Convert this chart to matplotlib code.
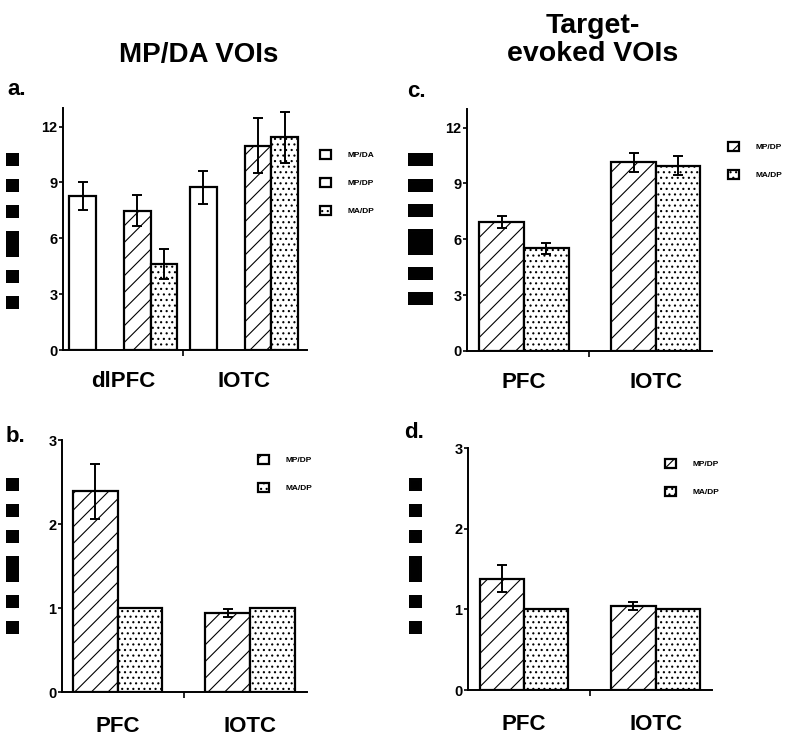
import numpy as np
import matplotlib
matplotlib.use("Agg")
import matplotlib.pyplot as plt

# ----------------------------
# Data
# ----------------------------

series_names = ["MP/DA", "MP/DP", "MA/DP"]

# panel a: MP/DA VOIs, ratio
a_groups = ["dlPFC", "IOTC"]
a_mpda = [8.28, 8.73]
a_mpda_err = [0.75, 0.88]
a_mpdp = [7.49, 10.97]
a_mpdp_err = [0.85, 1.48]
a_madp = [4.62, 11.42]
a_madp_err = [0.80, 1.38]

# panel c: target-evoked VOIs, ratio
c_groups = ["PFC", "IOTC"]
c_mpdp = [6.94, 10.14]
c_mpdp_err = [0.33, 0.50]
c_madp = [5.51, 9.96]
c_madp_err = [0.28, 0.50]

# panel b: MP/DA VOIs, normalised to MA/DP
b_groups = ["PFC", "IOTC"]
b_mpdp = [2.39, 0.94]
b_mpdp_err = [0.33, 0.05]
b_madp = [1.0, 1.0]

# panel d: target-evoked VOIs, normalised to MA/DP
d_groups = ["PFC", "IOTC"]
d_mpdp = [1.38, 1.04]
d_mpdp_err = [0.17, 0.05]
d_madp = [1.0, 1.0]

# ----------------------------
# Style
# ----------------------------

plt.rcParams['font.family'] = ['Liberation Sans', 'DejaVu Sans']
plt.rcParams['hatch.linewidth'] = 0.8
plt.rcParams['hatch.color'] = 'black'

BAR_STYLE = {
    "MP/DA": dict(facecolor="white", edgecolor="black", hatch=None),
    "MP/DP": dict(facecolor="white", edgecolor="black", hatch="//"),
    "MA/DP": dict(facecolor="white", edgecolor="black", hatch="..."),
}

fig = plt.figure(figsize=(8, 7.43), dpi=100)


def px_axes(left, top, right, bottom):
    # axes placed from pixel edges of the 800x743 canvas
    W, H = 800.0, 743.0
    return fig.add_axes([left / W, 1 - bottom / H, (right - left) / W, (bottom - top) / H])


def style_axes(ax, yticks, ylim, xlim, centers, groups, mid, label_pad):
    for s in ["top", "right"]:
        ax.spines[s].set_visible(False)
    ax.spines["left"].set_linewidth(1.4)
    ax.spines["bottom"].set_linewidth(1.4)
    ax.set_ylim(*ylim)
    ax.set_xlim(*xlim)
    ax.set_yticks(yticks)
    ax.set_yticklabels([str(t) for t in yticks], fontsize=10.5, fontweight="bold")
    ax.tick_params(axis="y", direction="out", length=3, width=1.2, pad=1)
    ax.set_xticks(centers)
    ax.set_xticklabels(groups, fontsize=16, fontweight="bold")
    ax.tick_params(axis="x", which="major", length=0, pad=label_pad)
    ax.set_xticks([mid], minor=True)
    ax.tick_params(axis="x", which="minor", direction="out", length=4, width=1.2)


def draw_bars(ax, xs, vals, errs, name):
    bars = ax.bar(xs, vals, width=1.0, linewidth=1.6, label=name, zorder=2,
                  **BAR_STYLE[name])
    if errs is not None:
        ax.errorbar(xs, vals, yerr=errs, fmt="none", ecolor="black",
                    elinewidth=1.4, capsize=3.8, capthick=1.4, zorder=3)
    return bars


def add_legend(ax, handles, x, y):
    fig.legend(handles=handles, labels=[h.get_label() for h in handles],
               loc="upper left", bbox_to_anchor=(x / 800.0, 1 - y / 743.0),
               bbox_transform=fig.transFigure, frameon=False,
               prop=dict(size=6, weight="bold"), handlelength=1.35,
               handleheight=1.35, handletextpad=2.0, labelspacing=2.2,
               borderpad=0, borderaxespad=0)


def add_ylabel_blocks(x, y_center, text, size):
    # the y-axis titles are unreadable in the source: solid glyph blocks
    fig.text(x / 800.0, 1 - y_center / 743.0, text,
             family="DejaVu Sans Mono", fontsize=size, rotation=90,
             ha="center", va="center", antialiased=False)


# ----------------------------
# Panel a
# ----------------------------

ax_a = px_axes(63, 108, 307, 350)
g = np.arange(len(a_groups)) * 4.56
h1 = draw_bars(ax_a, g + 0.74, a_mpda, a_mpda_err, "MP/DA")
h2 = draw_bars(ax_a, g + 2.81, a_mpdp, a_mpdp_err, "MP/DP")
h3 = draw_bars(ax_a, g + 3.81, a_madp, a_madp_err, "MA/DP")
style_axes(ax_a, [0, 3, 6, 9, 12], (0, 13), (0, 9.21), g + 2.27, a_groups, 4.53, 15)
add_legend(ax_a, [h1, h2, h3], 320, 150)

# ----------------------------
# Panel c
# ----------------------------

ax_c = px_axes(467, 109, 712, 351)
g = np.arange(len(c_groups)) * 2.96
h2 = draw_bars(ax_c, g + 0.78, c_mpdp, c_mpdp_err, "MP/DP")
h3 = draw_bars(ax_c, g + 1.78, c_madp, c_madp_err, "MA/DP")
style_axes(ax_c, [0, 3, 6, 9, 12], (0, 13), (0, 5.5), g + 1.28, c_groups, 2.74, 15)
add_legend(ax_c, [h2, h3], 728, 142)

# ----------------------------
# Panel b
# ----------------------------

ax_b = px_axes(62, 440, 307, 692)
g = np.arange(len(b_groups)) * 2.97
h2 = draw_bars(ax_b, g + 0.75, b_mpdp, b_mpdp_err, "MP/DP")
h3 = draw_bars(ax_b, g + 1.75, b_madp, None, "MA/DP")
style_axes(ax_b, [0, 1, 2, 3], (0, 3), (0, 5.5), g + 1.25, b_groups, 2.73, 17)
add_legend(ax_b, [h2, h3], 258, 455)

# ----------------------------
# Panel d
# ----------------------------

ax_d = px_axes(468, 448, 712, 690)
g = np.arange(len(d_groups)) * 2.97
h2 = draw_bars(ax_d, g + 0.76, d_mpdp, d_mpdp_err, "MP/DP")
h3 = draw_bars(ax_d, g + 1.76, d_madp, None, "MA/DP")
style_axes(ax_d, [0, 1, 2, 3], (0, 3), (0, 5.5), g + 1.26, d_groups, 2.74, 17)
add_legend(ax_d, [h2, h3], 665, 459)

# ----------------------------
# Titles, panel letters, y-axis titles
# ----------------------------

fig.text(199 / 800, 1 - 55 / 743, "MP/DA VOIs", ha="center", va="center",
         fontsize=20, fontweight="bold")
fig.text(593 / 800, 1 - 40 / 743, "Target-\nevoked VOIs", ha="center",
         va="center", fontsize=20.5, fontweight="bold", linespacing=1.08)

for letter, x, y in [("a.", 7, 95), ("c.", 407, 97), ("b.", 6, 442), ("d.", 404, 438)]:
    fig.text(x / 800, 1 - y / 743, letter, ha="left", va="baseline",
             fontsize=16, fontweight="bold")

add_ylabel_blocks(14, 230, "██  ██  ████  ██  ██  ██", 7.8)
add_ylabel_blocks(422, 228, "█ █ ██ █ █ █", 15)
add_ylabel_blocks(14, 555, "██  ██  ████  ██  ██  ██", 7.8)
add_ylabel_blocks(417, 555, "██  ██  ████  ██  ██  ██", 7.8)

fig.savefig("out.png", dpi=100)
